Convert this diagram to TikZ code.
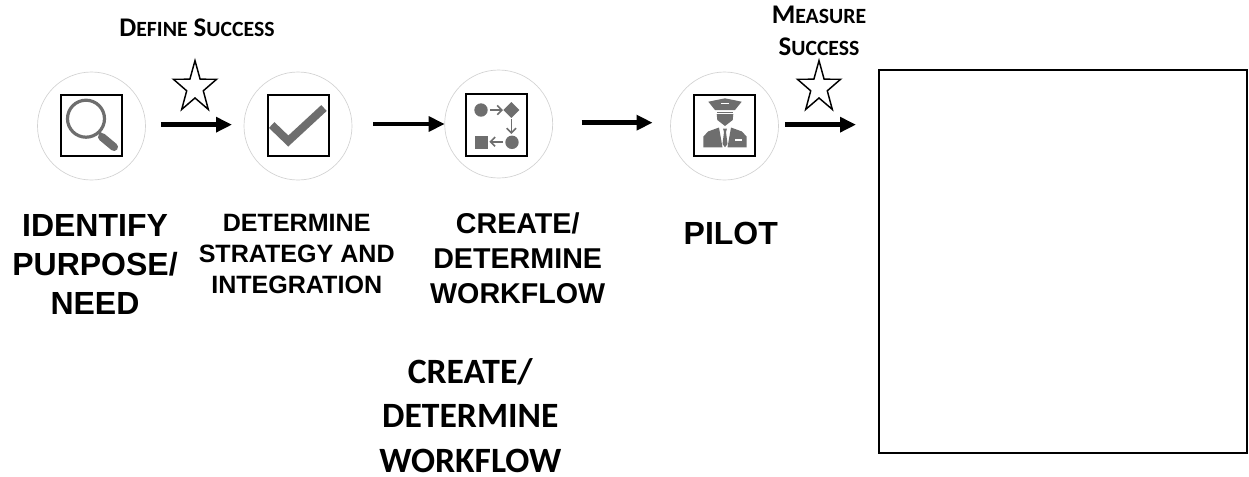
\documentclass[tikz,border=0pt]{standalone}
\usepackage{fontspec}
\usetikzlibrary{arrows.meta,shapes.geometric}
\setmainfont{Liberation Sans}
\newfontfamily\capfont{Carlito}
\definecolor{icongray}{HTML}{6E6E6E}
\definecolor{ringgray}{HTML}{D2D2D2}
\newcommand{\capword}[2]{#1{\fontsize{16.3}{16.3}\selectfont #2}}
\begin{document}
\begin{tikzpicture}[x=0.75pt, y=-0.75pt, every node/.style={inner sep=0, outer sep=0, align=center},
	ring/.style={draw=ringgray, line width=0.5pt, circle, minimum size=81pt},
	iconbox/.style={draw=black, line width=1.5pt, rectangle, minimum size=46pt},
	flow/.style={-{Triangle[length=12pt,width=11pt]}, line width=3.6pt, black},
	goalstar/.style={draw=black, line width=1.1pt, star, star points=5, star point ratio=2.6, minimum size=34pt, yscale=1.19, transform shape},
	hugelabel/.style={font=\fontsize{24}{29.25}\selectfont\bfseries},
	caplabel/.style={font=\fontsize{20.2}{24.4}\selectfont\capfont\bfseries}]
	\useasboundingbox (0,0) rectangle (1249,476);

	\node (C1) at (91.5,126) [ring] {};
	\node (C2) at (298,126) [ring] {};
	\node (C3) at (498.7,124) [ring] {};
	\node (C4) at (724.5,126) [ring] {};
	\node (S1) at (91.3,125.5) [iconbox] {};
	\node (S2) at (298.2,125.5) [iconbox] {};
	\node (S3) at (496.3,125) [iconbox] {};
	\node (S4) at (724.3,125.5) [iconbox] {};
	\node (R) at (1063,261.5) [draw, line width=1.5pt, rectangle, minimum width=276pt, minimum height=287.25pt] {};

	\draw[flow, shorten <=11.6pt, shorten >=9pt, transform canvas={yshift=1pt}] (C1) to (C2);
	\draw[flow, shorten <=15.75pt, shorten >=0pt] (C2.east |- C3) to (C3);
	\draw[flow, shorten <=21.75pt, shorten >=13.4pt, transform canvas={yshift=1pt}] (C3) to (C4.west |- C3);
	\draw[flow, shorten <=4.9pt, shorten >=17.25pt, transform canvas={yshift=1pt}] (C4) to (C4 -| R.west);

	\node (G1) at (195,87.6) [goalstar] {};
	\node (G2) at (819,87.6) [goalstar] {};

	% magnifier
	\draw[icongray, line width=2.4pt] (86,118.7) circle (18.5);
	\draw[icongray, line width=2.2pt] (99,132) -- (103,137);
	\draw[icongray, line width=6pt, line cap=round] (102,137) -- (114,147);
	% check
	\draw[icongray, line width=6pt] (271.7,125) -- (288.3,141) -- (324,108);
	% workflow
	\fill[icongray] (481,110) circle (6.7);
	\fill[icongray] (511.3,102) -- (519.3,110) -- (511.3,118) -- (503.3,110) -- cycle;
	\fill[icongray] (512,142.3) circle (6.7);
	\fill[icongray] (474.7,135.7) rectangle (488,149);
	\draw[icongray, line width=1.2pt, -{Straight Barb[length=3.5pt,width=7pt]}] (490.3,110) -- (503,110);
	\draw[icongray, line width=1.2pt, -{Straight Barb[length=3.5pt,width=7pt]}] (511.3,119.3) -- (511.3,134);
	\draw[icongray, line width=1.2pt, -{Straight Barb[length=3.5pt,width=7pt]}] (503,141.7) -- (489.3,141.7);
	% pilot
	\fill[icongray] (708.3,101.7) -- (725,98.3) -- (741.7,101.7) -- (735,110) -- (715,110) -- cycle;
	\fill[icongray] (716.7,111.5) rectangle (733.3,112.5);
	\fill[icongray] (716.7,114) -- (733.3,114) -- (732.7,120) -- (725,126) -- (717.3,120) -- cycle;
	\fill[icongray] (703.3,147.3) -- (703.3,136.7) -- (708,131.5) -- (719,127.5) -- (722.5,147.3) -- cycle;
	\fill[icongray] (746.7,147.3) -- (746.7,136.7) -- (742,131.5) -- (731,127.5) -- (727.5,147.3) -- cycle;
	\fill[icongray] (723,128.5) -- (727,128.5) -- (726,132) -- (727.5,144) -- (725,147.3) -- (722.5,144) -- (724,132) -- cycle;
	\draw[white, line width=0.8pt] (735,140) -- (741.7,140);
	\draw[white, line width=0.8pt] (721,103.5) -- (729,103.5);

	\node (T1) at (95,264) [hugelabel] {IDENTIFY\\PURPOSE/\\NEED};
	\node (T2) at (296.7,254) [font=\fontsize{18.8}{22.9}\selectfont\bfseries] {DETERMINE\\STRATEGY AND\\INTEGRATION};
	\node (T3) at (517.7,258) [font=\fontsize{21.5}{26.2}\selectfont\bfseries] {CREATE/\\DETERMINE\\WORKFLOW};
	\node (T4) at (730.8,233) [hugelabel] {PILOT};
	\node (T5) at (470.3,415.5) [font=\fontsize{26.7}{33.2}\selectfont\capfont\bfseries] {CREATE/\\DETERMINE\\WORKFLOW};
	\node (L1) at (197,28) [caplabel] {\capword{D}{EFINE} \capword{S}{UCCESS}};
	\node (L2) at (819,31) [caplabel] {\capword{M}{EASURE}\\\capword{S}{UCCESS}};
\end{tikzpicture}
\end{document}
